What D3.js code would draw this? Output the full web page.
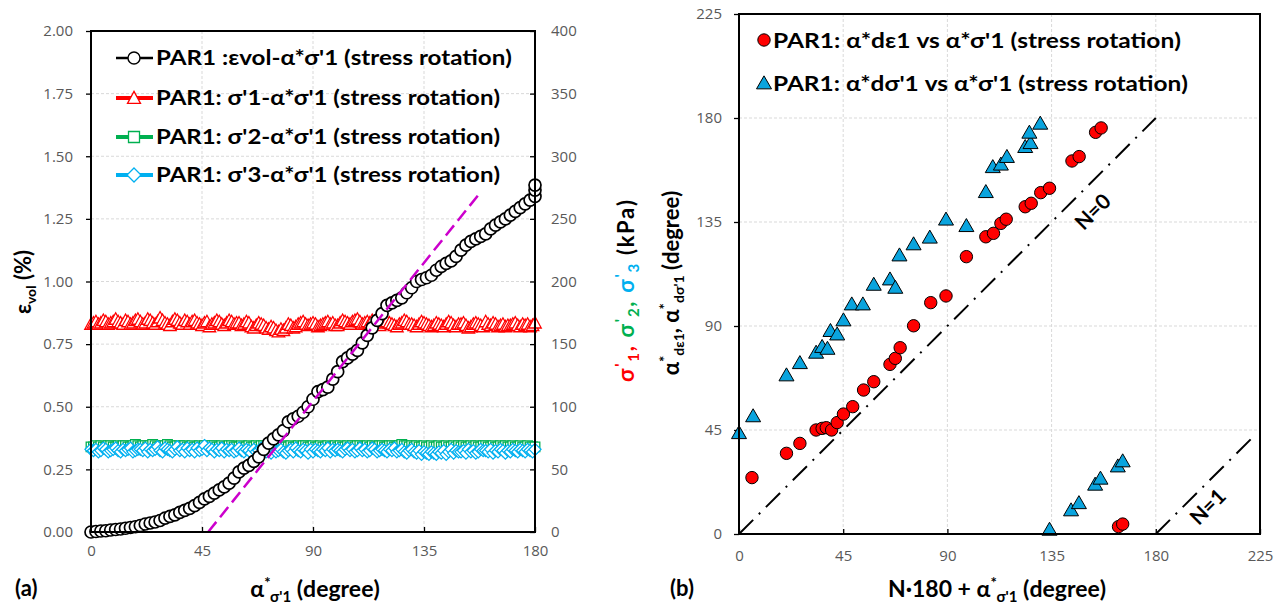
<!DOCTYPE html>
<html><head><meta charset="utf-8">
<script src="https://cdn.jsdelivr.net/npm/d3@7"></script>
<style>body{margin:0;background:#fff;} svg{display:block;}</style>
</head><body>
<svg id="c" width="1283" height="606"></svg>
<script>
// ---------------- DATA ----------------
// Panel (a): volumetric strain vs alpha*sigma'1
const epsAlpha = [0,2,4,6,8,10,12,14,16,18,20,22,24,26,28,30,32,34,36,38,40,42,44,46,48,50,52,54,56,58,60,62,64,66,68,70,72,74,76,78,80,82,84,86,88,90,92,94,96,98,100,102,104,106,108,110,112,114,116,118,120,122,124,126,128,130,132,134,136,138,140,142,144,146,148,150,152,154,156,158,160,162,164,166,168,170,172,174,176,178,180,180,180];
const epsVol = [0,0.002,0.004,0.005,0.008,0.010,0.012,0.015,0.018,0.021,0.026,0.032,0.036,0.040,0.046,0.055,0.062,0.068,0.078,0.086,0.094,0.105,0.118,0.132,0.142,0.155,0.168,0.180,0.195,0.215,0.240,0.255,0.266,0.282,0.300,0.330,0.355,0.372,0.388,0.405,0.440,0.452,0.462,0.478,0.500,0.530,0.560,0.568,0.578,0.610,0.640,0.680,0.695,0.710,0.725,0.755,0.785,0.815,0.845,0.872,0.905,0.915,0.925,0.935,0.955,0.975,1.000,1.008,1.015,1.025,1.045,1.060,1.072,1.082,1.100,1.125,1.145,1.160,1.170,1.180,1.190,1.210,1.225,1.238,1.250,1.265,1.280,1.295,1.310,1.325,1.340,1.365,1.385];
// principal stresses (kPa) vs alpha*sigma'1
const stressAlpha = [0,1,2,3,4,5,6,7,8,9,10,11,12,13,14,15,16,17,18,19,20,21,22,23,24,25,26,27,28,29,30,31,32,33,34,35,36,37,38,39,40,41,42,43,44,45,46,47,48,49,50,51,52,53,54,55,56,57,58,59,60,61,62,63,64,65,66,67,68,69,70,71,72,73,74,75,76,77,78,79,80,81,82,83,84,85,86,87,88,89,90,91,92,93,94,95,96,97,98,99,100,101,102,103,104,105,106,107,108,109,110,111,112,113,114,115,116,117,118,119,120,121,122,123,124,125,126,127,128,129,130,131,132,133,134,135,136,137,138,139,140,141,142,143,144,145,146,147,148,149,150,151,152,153,154,155,156,157,158,159,160,161,162,163,164,165,166,167,168,169,170,171,172,173,174,175,176,177,178,179,180];
const sigma1 = [166,167,168,166,167,169,168,166,167,168, 170,168,167,166,169,168,166,167,169,170, 168,166,167,170,169,167,166,168,171,169, 167,166,165,168,170,169,167,166,169,168, 166,168,169,167,166,165,167,168,164,166, 167,169,168,166,165,167,169,168,166,167, 167,165,166,168,167,164,163,165,167,166, 165,163,162,164,163,161,160,162,161,163, 166,165,163,164,166,167,168,166,165,166, 167,166,164,165,166,167,168,166,167,165, 165,167,169,168,167,166,168,169,170,168, 166,167,168,167,169,168,166,165,167,168, 168,167,166,165,164,166,167,169,168,166, 166,165,164,166,168,167,166,165,164,165, 167,166,165,164,166,168,167,165,164,166, 166,167,165,163,164,166,167,166,165,164, 168,166,165,167,166,164,165,166,164,165, 165,166,167,165,164,166,165,166,164,165, 167];
const sigma2 = [68,68,69,68,69,68,68,69,69,68, 68,69,68,69,69,68,68,69,70,69, 68,69,69,68,69,70,69,68,68,69, 69,70,69,68,68,69,69,68,69,68, 68,69,68,68,69,68,69,68,68,69, 69,68,68,69,68,68,69,69,68,68, 68,69,68,68,69,68,68,69,68,69, 69,68,68,69,68,69,68,68,69,68, 68,69,68,68,69,68,69,69,68,68, 69,68,68,69,68,68,69,68,68,69, 68,69,68,68,69,68,69,68,69,69, 68,68,69,68,69,68,68,69,69,68, 68,69,69,68,68,69,70,69,69,68, 69,68,69,68,68,69,68,68,69,68, 68,69,68,68,69,68,68,69,68,69, 68,69,68,68,69,68,69,68,68,69, 69,68,68,69,68,68,69,68,69,68, 68,69,68,68,69,68,68,69,68,68, 68];
const sigma3 = [66,65,66,64,65,67,66,64,65,66, 67,65,64,66,65,66,67,64,65,66, 66,65,67,64,66,65,66,68,65,64, 67,66,65,64,66,68,65,66,64,67, 65,66,64,67,65,66,69,65,67,66, 64,66,65,67,64,66,65,66,64,65, 67,65,64,66,65,63,66,64,65,67, 66,64,65,63,66,64,65,66,64,63, 65,66,64,67,65,64,66,65,63,66, 64,66,65,64,66,65,67,64,66,65, 66,65,64,66,67,65,66,64,65,67, 65,66,64,65,67,66,64,65,66,65, 64,66,65,67,64,65,66,64,63,65, 66,64,63,65,62,64,63,62,64,63, 62,64,63,65,62,64,66,63,65,64, 64,65,63,66,64,65,63,64,66,65, 65,64,66,63,65,64,66,65,63,65, 64,66,65,64,66,65,64,66,65,64, 66];
// magenta dashed trend line (alpha, eps)
const trendAlpha = [47.5, 157];
const trendEps = [0, 1.345];

// Panel (b)
const strainX = [5.6,20.5,26.3,33.3,35.9,37.7,40.0,42.4,45.1,49.1,53.8,58.2,65.2,67.5,69.6,75.4,82.8,89.4,98.2,106.6,109.9,113.1,115.4,123.6,126.2,130.3,134.1,143.8,146.9,154.0,156.4,163.9,165.7];
const strainY = [24.4,34.9,39.2,45.0,45.7,46.0,45.0,48.2,51.9,55.1,62.3,65.9,73.4,76.0,80.6,90.1,100.1,103.0,120.0,128.6,130.1,134.4,136.2,141.6,143.1,147.7,149.6,161.4,163.3,173.8,175.7,3.2,4.3];
const stressX = [0.0,6.1,20.5,26.3,33.3,35.9,38.2,39.5,42.4,45.1,48.7,53.5,58.2,65.2,67.5,69.3,75.4,82.4,89.4,98.2,106.6,109.6,113.1,115.7,123.6,125.9,125.4,130.1,134.1,143.4,146.8,153.8,156.1,163.6,165.7];
const stressY = [43.8,51.1,68.8,74.1,78.6,81.1,80.3,88.0,86.5,92.6,99.5,99.5,108.0,110.3,106.7,120.7,125.5,128.4,136.2,133.4,148.1,158.9,160.0,163.3,167.6,169.3,173.8,177.7,2.0,10.4,13.5,21.5,24.1,29.4,31.6];
const n0X = [0,180], n0Y = [0,180];
const n1X = [180,222], n1Y = [0,42];

// ticks
const tickAx = [0,45,90,135,180];
const tickAy = [0,0.25,0.5,0.75,1.0,1.25,1.5,1.75,2.0];
const tickAy2 = [0,50,100,150,200,250,300,350,400];
const tickB = [0,45,90,135,180,225];

// ---------------- DRAW ----------------
const svg = d3.select('#c');
const TICKF = "'Open Sans', sans-serif";
const BOLDF = "Lato, 'Open Sans', sans-serif";
const RED = '#FF0000', GREEN = '#00B050', CYAN = '#00B0F0', TRI = '#0AA4DE';

function styleAxis(g){
  g.selectAll('text').attr('font-family', TICKF).attr('font-size', 15).attr('fill', '#595959');
  g.selectAll('.domain').remove();
  g.selectAll('line').attr('stroke', '#000').attr('stroke-width', 1.3);
}
function grid(g, xs, ys, x, y, x0, x1, y0, y1){
  g.selectAll(null).data(xs).enter().append('line')
    .attr('x1', d=>x(d)).attr('x2', d=>x(d)).attr('y1', y0).attr('y2', y1)
    .attr('stroke', '#D9D9D9').attr('stroke-width', 1).attr('stroke-dasharray', '3,2');
  g.selectAll(null).data(ys).enter().append('line')
    .attr('y1', d=>y(d)).attr('y2', d=>y(d)).attr('x1', x0).attr('x2', x1)
    .attr('stroke', '#D9D9D9').attr('stroke-width', 1).attr('stroke-dasharray', '3,2');
}
function rich(parent, x, y, parts, opts={}){
  const t = parent.append('text').attr('x', x).attr('y', y)
    .attr('font-family', BOLDF).attr('font-weight', 'bold')
    .attr('text-anchor', opts.anchor || 'middle').attr('fill', '#000');
  if (opts.rotate) t.attr('transform', `rotate(${opts.rotate},${x},${y})`);
  if (opts.len) t.attr('textLength', opts.len).attr('lengthAdjust', 'spacing');
  let cur = 0;
  parts.forEach(p => {
    const shift = p.s || 0;
    t.append('tspan').text(p.t).attr('font-size', p.size).attr('dy', shift - cur)
      .attr('fill', p.fill || '#000');
    cur = shift;
  });
  return t;
}
const triPath = (w,h) => `M0,${-h*0.55}L${w/2},${h*0.45}L${-w/2},${h*0.45}Z`;
const diaPath = r => `M0,${-r}L${r},0L0,${r}L${-r},0Z`;
const sqPath = r => `M${-r},${-r}H${r}V${r}H${-r}Z`;

// ===== Panel (a) =====
const xA = d3.scaleLinear().domain([0,180]).range([91,535]);
const yA = d3.scaleLinear().domain([0,2]).range([532,31]);
const yA2 = d3.scaleLinear().domain([0,400]).range([532,31]);
const gA = svg.append('g');
grid(gA, [45,90,135], [0.25,0.5,0.75,1,1.25,1.5,1.75], xA, yA, 91, 535, 31, 532);

gA.append('g').attr('transform','translate(91,0)')
  .call(d3.axisLeft(yA).tickValues(tickAy).tickFormat(d3.format('.2f')).tickSize(5).tickPadding(13)).call(styleAxis);
gA.append('g').attr('transform','translate(535,0)')
  .call(d3.axisRight(yA2).tickValues(tickAy2).tickFormat(d3.format('d')).tickSize(-5).tickPadding(16)).call(styleAxis);
gA.append('g').attr('transform','translate(0,532)')
  .call(d3.axisBottom(xA).tickValues(tickAx).tickFormat(d3.format('d')).tickSize(-5).tickPadding(13)).call(styleAxis);

// stress series
const stressSeries = [
  {vals: sigma1, color: RED, shape: triPath(12.5,11.5)},
  {vals: sigma2, color: GREEN, shape: sqPath(4.8)},
  {vals: sigma3, color: CYAN, shape: diaPath(6)}
];
stressSeries.forEach(s => {
  const line = d3.line().x((d,i)=>xA(stressAlpha[i])).y(d=>yA2(d));
  gA.append('path').datum(s.vals).attr('d', line).attr('fill','none').attr('stroke', s.color).attr('stroke-width', 2);
  gA.selectAll(null).data(s.vals).enter().append('path')
    .attr('d', s.shape).attr('transform', (d,i)=>`translate(${xA(stressAlpha[i])},${yA2(d)})`)
    .attr('fill', '#fff').attr('stroke', s.color).attr('stroke-width', 1.3);
});
// volumetric strain
const lineE = d3.line().x((d,i)=>xA(epsAlpha[i])).y(d=>yA(d));
gA.append('path').datum(epsVol).attr('d', lineE).attr('fill','none').attr('stroke','#000').attr('stroke-width',1);
gA.selectAll(null).data(epsVol).enter().append('circle')
  .attr('cx', (d,i)=>xA(epsAlpha[i])).attr('cy', d=>yA(d)).attr('r', 6)
  .attr('fill', '#fff').attr('stroke', '#000').attr('stroke-width', 1.7);
// trend line
gA.append('line').attr('x1', xA(trendAlpha[0])).attr('y1', yA(trendEps[0]))
  .attr('x2', xA(trendAlpha[1])).attr('y2', yA(trendEps[1]))
  .attr('stroke', '#CC00CC').attr('stroke-width', 2.5).attr('stroke-dasharray', '13,6');
// border
gA.append('rect').attr('x',91).attr('y',31).attr('width',444).attr('height',501)
  .attr('fill','none').attr('stroke','#000').attr('stroke-width',2);

// legend (a)
const legA = [
  {label: "PAR1 :εvol-α*σ'1 (stress rotation)", color:'#000', lw:2.5, type:'circle', w:356, y:58},
  {label: "PAR1: σ'1-α*σ'1 (stress rotation)", color:RED, lw:4, type:'tri', w:344, y:98},
  {label: "PAR1: σ'2-α*σ'1 (stress rotation)", color:GREEN, lw:4, type:'sq', w:344, y:137},
  {label: "PAR1: σ'3-α*σ'1 (stress rotation)", color:CYAN, lw:4, type:'dia', w:344, y:175}
];
legA.forEach(l => {
  const g = gA.append('g');
  g.append('line').attr('x1',116).attr('x2',153).attr('y1',l.y).attr('y2',l.y).attr('stroke',l.color).attr('stroke-width',l.lw);
  if (l.type==='circle') g.append('circle').attr('cx',134).attr('cy',l.y).attr('r',6).attr('fill','#fff').attr('stroke',l.color).attr('stroke-width',1.4);
  else {
    const d = l.type==='tri' ? triPath(13,12) : l.type==='sq' ? sqPath(5.5) : diaPath(7);
    g.append('path').attr('d',d).attr('transform',`translate(134,${l.y})`).attr('fill','#fff').attr('stroke',l.color).attr('stroke-width',1.3);
  }
  g.append('text').attr('x',156).attr('y',l.y+7).text(l.label)
    .attr('font-family',BOLDF).attr('font-weight','bold').attr('font-size',21)
    .attr('textLength', l.w).attr('lengthAdjust','spacingAndGlyphs');
});

// axis titles (a)
rich(svg, 315, 597, [{t:'α',size:23},{t:'*',size:15,s:-9},{t:"σ'1",size:15,s:5},{t:' (degree)',size:23,s:0}]);
rich(svg, 31, 282, [{t:'ε',size:22},{t:'vol',size:14,s:5},{t:' (%)',size:22,s:0}], {rotate:-90});
rich(svg, 634, 291, [
  {t:'σ',size:22,fill:RED},{t:"'",size:16,s:-8,fill:RED},{t:'1',size:15,s:5,fill:RED},{t:', ',size:22,s:0,fill:RED},
  {t:'σ',size:22,fill:GREEN},{t:"'",size:16,s:-8,fill:GREEN},{t:'2',size:15,s:5,fill:GREEN},{t:', ',size:22,s:0,fill:GREEN},
  {t:'σ',size:22,fill:CYAN},{t:"'",size:16,s:-8,fill:CYAN},{t:'3',size:15,s:5,fill:CYAN},{t:' (kPa)',size:22,s:0}
], {rotate:-90, len:182});
rich(svg, 15, 596, [{t:'(a)',size:22}], {anchor:'start'});

// ===== Panel (b) =====
const xB = d3.scaleLinear().domain([0,225]).range([739,1260]);
const yB = d3.scaleLinear().domain([0,225]).range([534,14]);
const gB = svg.append('g');
grid(gB, [45,90,135,180], [45,90,135,180], xB, yB, 739, 1260, 14, 534);
gB.append('g').attr('transform','translate(739,0)')
  .call(d3.axisLeft(yB).tickValues(tickB).tickFormat(d3.format('d')).tickSize(5).tickPadding(12)).call(styleAxis);
gB.append('g').attr('transform','translate(0,534)')
  .call(d3.axisBottom(xB).tickValues(tickB).tickFormat(d3.format('d')).tickSize(-5).tickPadding(16)).call(styleAxis);

// N lines
gB.append('line').attr('x1',xB(n0X[0])).attr('y1',yB(n0Y[0])).attr('x2',xB(n0X[1])).attr('y2',yB(n0Y[1]))
  .attr('stroke','#000').attr('stroke-width',2).attr('stroke-dasharray','20,8,2,8');
gB.append('line').attr('x1',xB(n1X[0])).attr('y1',yB(n1Y[0])).attr('x2',xB(n1X[1])).attr('y2',yB(n1Y[1]))
  .attr('stroke','#000').attr('stroke-width',2).attr('stroke-dasharray','20,8,2,8');
rich(gB, 1098, 217, [{t:'N=0',size:21}], {rotate:-45});
rich(gB, 1213, 512, [{t:'N=1',size:21}], {rotate:-45});

// markers
gB.selectAll(null).data(strainY).enter().append('circle')
  .attr('cx',(d,i)=>xB(strainX[i])).attr('cy',d=>yB(d)).attr('r',6.2)
  .attr('fill',RED).attr('stroke','#000').attr('stroke-width',1);
gB.selectAll(null).data(stressY).enter().append('path')
  .attr('d', triPath(15,13)).attr('transform',(d,i)=>`translate(${xB(stressX[i])},${yB(d)})`)
  .attr('fill',TRI).attr('stroke','#000').attr('stroke-width',1);
gB.append('rect').attr('x',739).attr('y',14).attr('width',521).attr('height',520)
  .attr('fill','none').attr('stroke','#000').attr('stroke-width',2);

// legend (b)
gB.append('circle').attr('cx',764).attr('cy',40).attr('r',6.2).attr('fill',RED).attr('stroke','#000').attr('stroke-width',1);
gB.append('text').attr('x',773).attr('y',48).text("PAR1: α*dε1 vs α*σ'1 (stress rotation)")
  .attr('font-family',BOLDF).attr('font-weight','bold').attr('font-size',21).attr('textLength',408).attr('lengthAdjust','spacingAndGlyphs');
gB.append('path').attr('d',triPath(15,13)).attr('transform','translate(764,83)').attr('fill',TRI).attr('stroke','#000').attr('stroke-width',1);
gB.append('text').attr('x',773).attr('y',91).text("PAR1: α*dσ'1 vs α*σ'1 (stress rotation)")
  .attr('font-family',BOLDF).attr('font-weight','bold').attr('font-size',21).attr('textLength',415).attr('lengthAdjust','spacingAndGlyphs');

// axis titles (b)
rich(svg, 997, 597, [{t:'N·180 + α',size:23},{t:'*',size:15,s:-9},{t:"σ'1",size:15,s:5},{t:' (degree)',size:23,s:0}]);
rich(svg, 679, 283, [{t:'α',size:22},{t:'*',size:15,s:-9},{t:'dε1',size:14,s:5},{t:', α',size:22,s:0},{t:'*',size:15,s:-9},{t:"dσ'1",size:14,s:5},{t:' (degree)',size:22,s:0}], {rotate:-90});
rich(svg, 670, 596, [{t:'(b)',size:22}], {anchor:'start'});
</script>
</body></html>
